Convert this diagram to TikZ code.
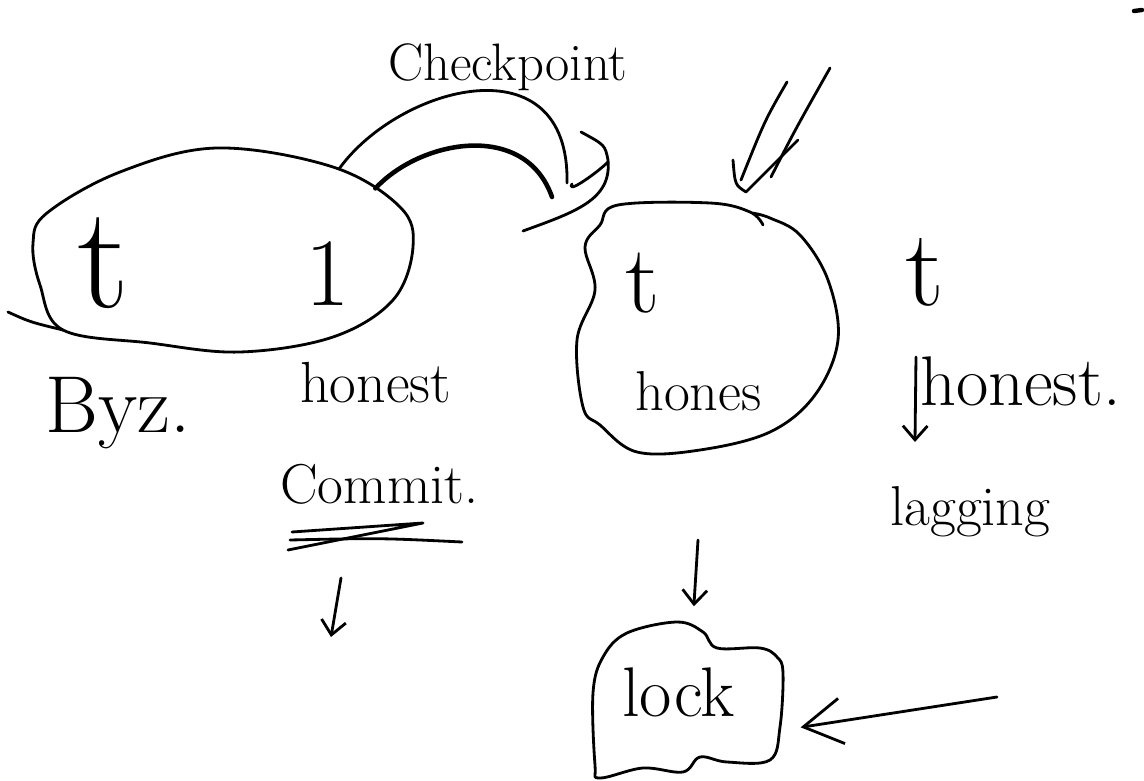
\documentclass[tikz,border=0pt]{standalone}
\usepackage{fontspec}
\usepackage{tikz}
\usetikzlibrary{shapes.geometric,arrows.meta,positioning}

\tikzstyle{ink} = [line width=1.6pt, line cap=round, line join=round]
\tikzstyle{arrow} = [ink, -{Straight Barb[length=8pt,width=14pt]}]
\tikzstyle{bigarrow} = [ink, -{Straight Barb[length=22pt,width=26pt]}]
\tikzstyle{group} = [draw=none, inner sep=0pt]
\tikzstyle{word} = [inner sep=0pt, anchor=base west]
\newcommand{\fs}[1]{\fontsize{#1}{#1}\selectfont}

\begin{document}
\begin{tikzpicture}[x=0.02cm, y=-0.02cm]
\useasboundingbox (0,0) rectangle (1144,781);

% groups (outlines drawn by hand below)
\node[group, ellipse, minimum width=7.6cm, minimum height=4.1cm] (byz) at (223,250) {};
\node[group, ellipse, minimum width=5.2cm, minimum height=4.9cm] (hon) at (707,327) {};
\node[group, rectangle, minimum width=3.8cm, minimum height=3.1cm] (lock) at (688,700) {};

\draw[ink] plot[smooth cycle, tension=0.6] coordinates {(63,330) (40,285) (33,243) (47,213)
  (120,172) (217,148) (333,167) (400,207) (413,247) (393,300) (333,337) (240,352) (150,343)};
\draw[ink] (8,312) .. controls (30,322) .. (63,330);
\draw[ink] plot[smooth, tension=0.6] coordinates {(763,225) (750,212) (710,203) (618,205)
  (600,225) (585,247) (595,290) (577,340) (583,407) (600,425) (637,452) (700,450)
  (770,432) (815,395) (838,340) (828,280) (800,235) (770,218) (752,213)};
\draw[ink] plot[smooth cycle, tension=0.6] coordinates {(595,765) (593,693) (603,657)
  (627,633) (677,622) (703,632) (717,648) (760,648) (777,657) (783,673) (780,727)
  (770,760) (727,762) (700,757) (683,772) (643,768) (600,778)};

% labels
\node[word] (cpt) at (388,80) {\fs{30}Checkpoint};
\node[inner sep=0pt, anchor=base] (tb) at (103,307) {\fs{83}t};
\node[inner sep=0pt, anchor=base] (one) at (328,305) {\fs{55}1};
\node[word] (bz) at (45,432) {\fs{46}Byz.};
\node[word] (hl) at (300,402) {\fs{33}honest};
\node[word] (cm) at (280,503) {\fs{32}Commit.};
\node[inner sep=0pt, anchor=base] (th) at (643,312) {\fs{55}t};
\node[word] (hs) at (635,410) {\fs{32}hones};
\node[inner sep=0pt, anchor=base] (tr) at (925,305) {\fs{62}t};
\node[word] (hr) at (920,405) {\fs{40}honest.};
\node[word] (lg) at (890,525) {\fs{32}lagging};
\node[word] (lk) at (622,716) {\fs{40}lock};

% checkpoint arc
\coordinate (cp) at (567,183);
\draw[ink] (byz.35) .. controls (400,85) and (570,40) .. (cp);
\draw[ink, line width=2.6pt] (byz.22) .. controls (420,140) and (525,120) .. (552,197);
\draw[ink] (523,231) .. controls (575,212) and (612,200) .. (608,160) .. controls (605,145) .. (581,132);
\draw[ink] (608,162) .. controls (598,172) and (566,195) .. (572,184);

% double underline under Commit.
\draw[ink] (292,532) -- (423,523) -- (288,550);
\draw[ink] (290,540) .. controls (380,538) .. (462,542);

% arrows
\coordinate (c1) at (341,578);
\coordinate (c2) at (331,637);
\draw[arrow] (c1) -- (c2);

% double stroke into the honest group
\coordinate (dl) at (787,82);
\coordinate (dr) at (830,68);
\coordinate (dtip) at (746,192);
\draw[ink] (dl) .. controls (765,120) .. ([shift={(-5,-12)}]dtip);
\draw[ink] (dr) .. controls (795,130) .. ([shift={(25,-15)}]dtip);
\draw[ink] (733,160) .. controls (735,185) .. (dtip) -- (798,140);

\coordinate (l1) at (916,357);
\coordinate (l2) at (915,442);
\draw[arrow] (l1) -- (l2);

\coordinate (hd) at (698,540);
\draw[arrow, shorten >=0.32cm] (hd) -- (lock);

\coordinate (rk) at (997,697);
\draw[bigarrow, shorten >=0.35cm] (rk) -- ([yshift=-0.6cm]lock.east);

% stray mark
\draw[line width=2.5pt, line cap=round] (1134,11) -- (1142,10);
\end{tikzpicture}
\end{document}
